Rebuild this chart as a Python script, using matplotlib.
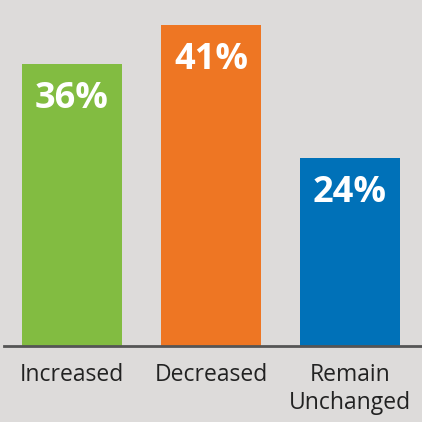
import matplotlib
matplotlib.use("Agg")
import matplotlib.pyplot as plt

categories = ["Increased", "Decreased", "Remain\nUnchanged"]
values = [36, 41, 24]
labels = ["36%", "41%", "24%"]
colors = ["#82bc41", "#ee7623", "#0071b8"]

BG = "#dddbda"

fig = plt.figure(figsize=(4.22, 4.22), dpi=100, facecolor=BG)
ax = fig.add_axes([4 / 422, 76 / 422, 418 / 422, 346 / 422])
ax.set_facecolor(BG)

x = range(len(values))
bars = ax.bar(x, values, width=100 / 139, color=colors, zorder=2)
for b, lab in zip(bars, labels):
    ax.annotate(lab, (b.get_x() + b.get_width() / 2, b.get_height()),
                xytext=(0, -25), textcoords="offset points", ha="center", va="center",
                color="white", fontsize=26, fontweight="bold", family="Open Sans")

ax.set_xlim(-68 / 139, 2 + 72 / 139)
ax.set_ylim(0, 44.2)
ax.set_xticks(list(x))
ax.set_xticklabels(categories, fontsize=16.5, color="#222222", family="Open Sans",
                   linespacing=1.25)
ax.tick_params(axis="x", length=0, pad=12)
ax.set_yticks([])
for s in ["top", "right", "left"]:
    ax.spines[s].set_visible(False)
ax.spines["bottom"].set_color("#555555")
ax.spines["bottom"].set_linewidth(2)

fig.savefig("out.png", dpi=100, facecolor=BG)
